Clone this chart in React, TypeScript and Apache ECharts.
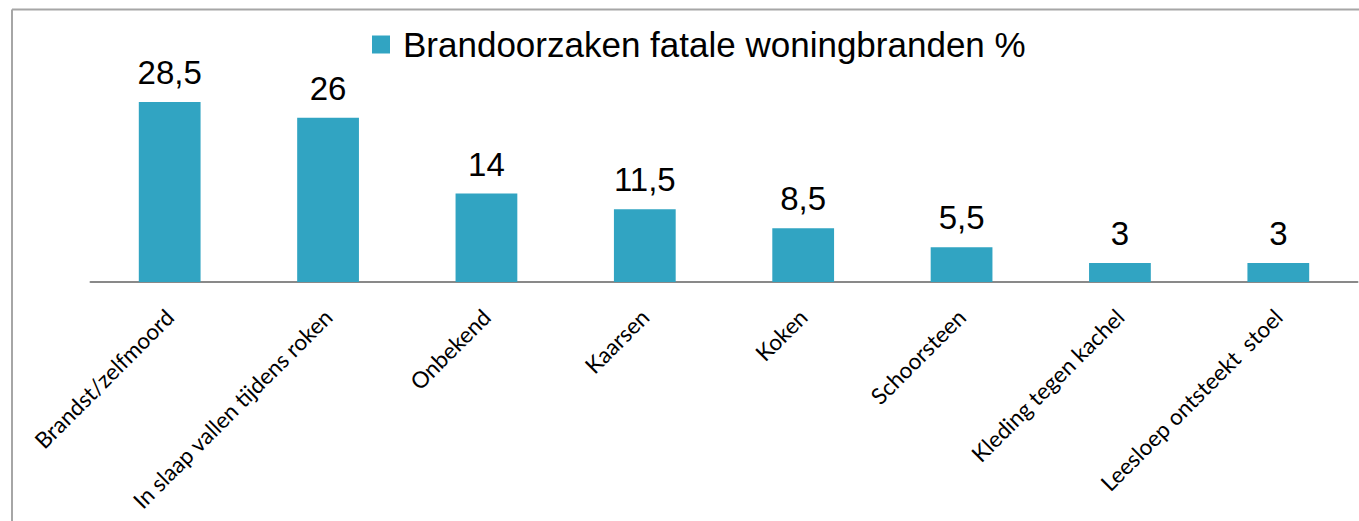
import React, { useEffect, useRef } from "react";
import * as echarts from "echarts";

const categories = [
  "Brandst/zelfmoord",
  "In slaap vallen tijdens roken",
  "Onbekend",
  "Kaarsen",
  "Koken",
  "Schoorsteen",
  "Kleding tegen kachel",
  "Leesloep ontsteekt  stoel",
];
const seriesName = "Brandoorzaken fatale woningbranden %";
const values = [28.5, 26, 14, 11.5, 8.5, 5.5, 3, 3];

export default function App() {
  const ref = useRef<HTMLDivElement>(null);
  useEffect(() => {
    if (!ref.current) return;
    const chart = echarts.init(ref.current, null, { renderer: "svg" });
    chart.setOption({
      animation: false,
      backgroundColor: "#ffffff",
      graphic: [
        {
          type: "line",
          shape: { x1: 12, y1: 9.5, x2: 1400, y2: 9.5 },
          style: { stroke: "#a6a6a6", lineWidth: 2 },
        },
        {
          type: "line",
          shape: { x1: 12, y1: 9.5, x2: 12, y2: 600 },
          style: { stroke: "#a6a6a6", lineWidth: 2 },
        },
      ],
      legend: {
        left: 372,
        top: 27,
        padding: 0,
        itemWidth: 18,
        itemHeight: 18,
        icon: "rect",
        textStyle: {
          fontFamily: "Liberation Sans, Arial, sans-serif",
          fontSize: 35,
          color: "#000",
          padding: [0, 0, 0, 8],
        },
        data: [seriesName],
      },
      grid: { left: 90.5, right: 1.5, top: 92.5, bottom: 239, containLabel: false },
      xAxis: {
        type: "category",
        data: categories,
        axisLine: { lineStyle: { color: "#898989", width: 2 } },
        axisTick: { show: false },
        axisLabel: {
          interval: 0,
          rotate: 45,
          margin: 31,
          fontFamily: "Lato, Noto Sans, sans-serif",
          fontSize: 22.5,
          color: "#000",
        },
      },
      yAxis: {
        type: "value",
        min: 0,
        max: 30,
        show: false,
        splitLine: { show: false },
      },
      series: [
        {
          name: seriesName,
          type: "bar",
          data: values,
          barWidth: "39%",
          itemStyle: { color: "#31a4c2" },
          label: {
            show: true,
            position: "top",
            distance: 13,
            fontFamily: "Liberation Sans, Arial, sans-serif",
            fontSize: 33,
            color: "#000",
            formatter: (p: any) => String(p.value).replace(".", ","),
          },
        },
      ],
    });
    return () => chart.dispose();
  }, []);
  return (
    <div
      ref={ref}
      style={{ position: "fixed", left: 0, top: 0, width: 1359, height: 521 }}
    />
  );
}
